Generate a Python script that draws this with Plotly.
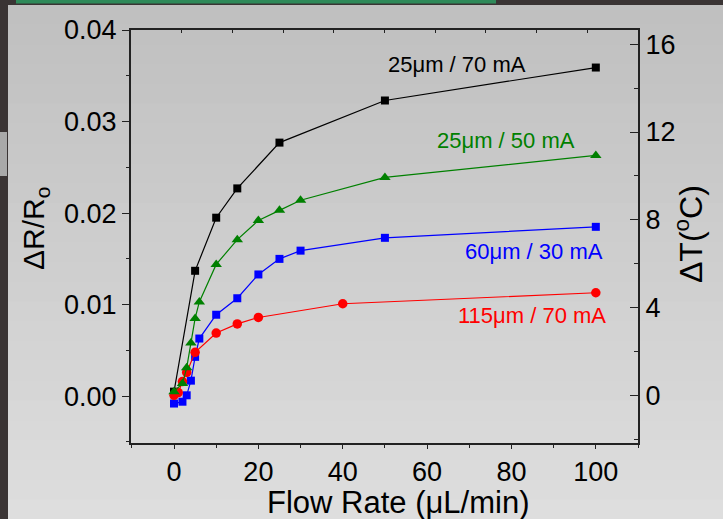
import plotly.graph_objects as go

# ---------------- data ----------------
x_black = [0, 5, 10, 15, 25, 50, 100]
y_black = [0.0005, 0.0137, 0.0195, 0.0227, 0.0277, 0.0323, 0.0359]

x_green = [0, 2, 3, 4, 5, 6, 10, 15, 20, 25, 30, 50, 100]
y_green = [0.0005, 0.0014, 0.0031, 0.0058, 0.0085, 0.0103, 0.0144, 0.0171,
           0.0192, 0.0203, 0.0214, 0.0239, 0.0263]

x_blue = [0, 2, 3, 4, 5, 6, 10, 15, 20, 25, 30, 50, 100]
y_blue = [-0.0008, -0.0006, 0.0001, 0.0017, 0.0043, 0.0063, 0.0089, 0.0107,
          0.0133, 0.0150, 0.0159, 0.0173, 0.0185]

x_red = [0, 1, 2, 3, 5, 10, 15, 20, 40, 100]
y_red = [0.0001, 0.0004, 0.0016, 0.0026, 0.0048, 0.0069, 0.0079, 0.0086,
         0.0101, 0.0113]

labels = ["25μm / 70 mA", "25μm / 50 mA", "60μm / 30 mA", "115μm / 70 mA"]
label_x = [67.2, 78.7, 85.4, 84.8]
label_y = [0.0362, 0.0279, 0.0158, 0.0088]

x_ticks = [0, 20, 40, 60, 80, 100]
yl_ticks = [0.00, 0.01, 0.02, 0.03, 0.04]
yr_ticks = [0, 4, 8, 12, 16]

x_title = "Flow Rate (μL/min)"
yl_title = "ΔR/R<sub>o</sub>"
yr_title = "ΔT(<sup>o</sup>C)"

# ---------------- styling ----------------
W, H = 723, 519
ML, MR, MT, MB = 131, 85, 30, 76
PW, PH = W - ML - MR, H - MT - MB
FONT = "Arial, Liberation Sans, sans-serif"
colors = ["#000000", "#008000", "#0000ff", "#ff0000"]


def px2paper(px, py):
    return (px - ML) / PW, (H - MB - py) / PH


fig = go.Figure()

fig.add_trace(go.Scatter(x=x_black, y=y_black, mode="lines+markers",
                         line=dict(color=colors[0], width=1.2),
                         marker=dict(symbol="square", size=8, color=colors[0]),
                         showlegend=False))
fig.add_trace(go.Scatter(x=x_blue, y=y_blue, mode="lines+markers",
                         line=dict(color=colors[2], width=1.2),
                         marker=dict(symbol="square", size=8, color=colors[2]),
                         showlegend=False))
fig.add_trace(go.Scatter(x=x_red, y=y_red, mode="lines+markers",
                         line=dict(color=colors[3], width=1.2),
                         marker=dict(symbol="circle", size=9.5, color=colors[3]),
                         showlegend=False))
fig.add_trace(go.Scatter(x=x_green, y=y_green, mode="lines+markers",
                         line=dict(color=colors[1], width=1.2),
                         marker=dict(symbol="triangle-up", size=10, color=colors[1]),
                         showlegend=False))
# empty trace to activate secondary axes
fig.add_trace(go.Scatter(x=[], y=[], xaxis="x2", yaxis="y2",
                         showlegend=False, hoverinfo="skip"))

for t, lx, ly, c in zip(labels, label_x, label_y, colors):
    fig.add_annotation(x=lx, y=ly, xref="x", yref="y", text=t, showarrow=False,
                       xanchor="center", yanchor="middle",
                       font=dict(family=FONT, size=22, color=c))


# axis titles as annotations (positioned in pixels)
def ann_px(text, px, py, size, angle=0):
    ax, ay = px2paper(px, py)
    fig.add_annotation(x=ax, y=ay, xref="paper", yref="paper", text=text,
                       showarrow=False, xanchor="center", yanchor="middle",
                       textangle=angle, font=dict(family=FONT, size=size, color="#000"))


ann_px(x_title, 398, 502, 31)
ann_px(yl_title, 35, 229, 30, -90)
ann_px(yr_title, 689, 234, 32, -90)


def rect(px0, py0, px1, py1, color, layer="above"):
    a0, b0 = px2paper(px0, py0)
    a1, b1 = px2paper(px1, py1)
    return dict(type="rect", xref="paper", yref="paper", x0=a0, x1=a1, y0=b1, y1=b0,
                fillcolor=color, line=dict(width=0), layer=layer)


# background gradient bands (content area; dark window frame shows around it)
shapes = []
nb = 26
top, left = 5, 8
for i in range(nb):
    g = int(192 + (222 - 192) * i / (nb - 1))
    y0p = top + i * (H - top) / nb
    y1p = top + (i + 1) * (H - top) / nb + 1
    shapes.append(rect(left, y0p, W, min(y1p, H), f"rgb({g},{g},{g})", "below"))

# window frame details
shapes.append(rect(16, 0, 496, 3.5, "#2f8a5a"))
shapes.append(rect(0, 132, 7, 176, "#a9a9a9"))

fig.update_layout(
    width=W, height=H,
    margin=dict(l=ML, r=MR, t=MT, b=MB, autoexpand=False),
    paper_bgcolor="#3a3434",
    plot_bgcolor="rgba(0,0,0,0)",
    font=dict(family=FONT, color="#000000"),
    shapes=shapes,
    xaxis=dict(range=[-10.2, 110], tickvals=x_ticks, ticks="outside", ticklen=4,
               tickwidth=1.2, tickcolor="#222", showline=True, linewidth=1.5,
               linecolor="#222", showgrid=False, zeroline=False, automargin=False,
               tickfont=dict(size=27, family=FONT),
               minor=dict(dtick=10, tick0=0, ticks="outside", ticklen=3,
                          tickcolor="#222", tickwidth=1)),
    xaxis2=dict(range=[0, 10], overlaying="x", side="top", anchor="y2",
                dtick=1, ticks="inside", ticklen=3, tickcolor="#222",
                showticklabels=False, showline=True, linewidth=1.5, automargin=False,
                linecolor="#222", showgrid=False, zeroline=False),
    yaxis=dict(range=[-0.00511, 0.04], tickvals=yl_ticks, tickformat=".2f",
               ticks="outside", ticklen=7, tickwidth=1.2, tickcolor="#222",
               showline=True, linewidth=2, linecolor="#222", showgrid=False,
               zeroline=False, automargin=False, tickfont=dict(size=27, family=FONT),
               minor=dict(dtick=0.005, tick0=0, ticks="outside", ticklen=3,
                          tickcolor="#222", tickwidth=1)),
    yaxis2=dict(range=[-2.147, 16.64], overlaying="y", side="right", anchor="x2",
                tickvals=yr_ticks, ticks="inside", ticklen=8, tickwidth=1.2,
                tickcolor="#222", showline=True, linewidth=2, linecolor="#222",
                showgrid=False, zeroline=False, automargin=False,
                tickfont=dict(size=27, family=FONT),
                minor=dict(dtick=2, tick0=0, ticks="inside", ticklen=4,
                           tickcolor="#222", tickwidth=1)),
)

fig.write_html("out.html")
